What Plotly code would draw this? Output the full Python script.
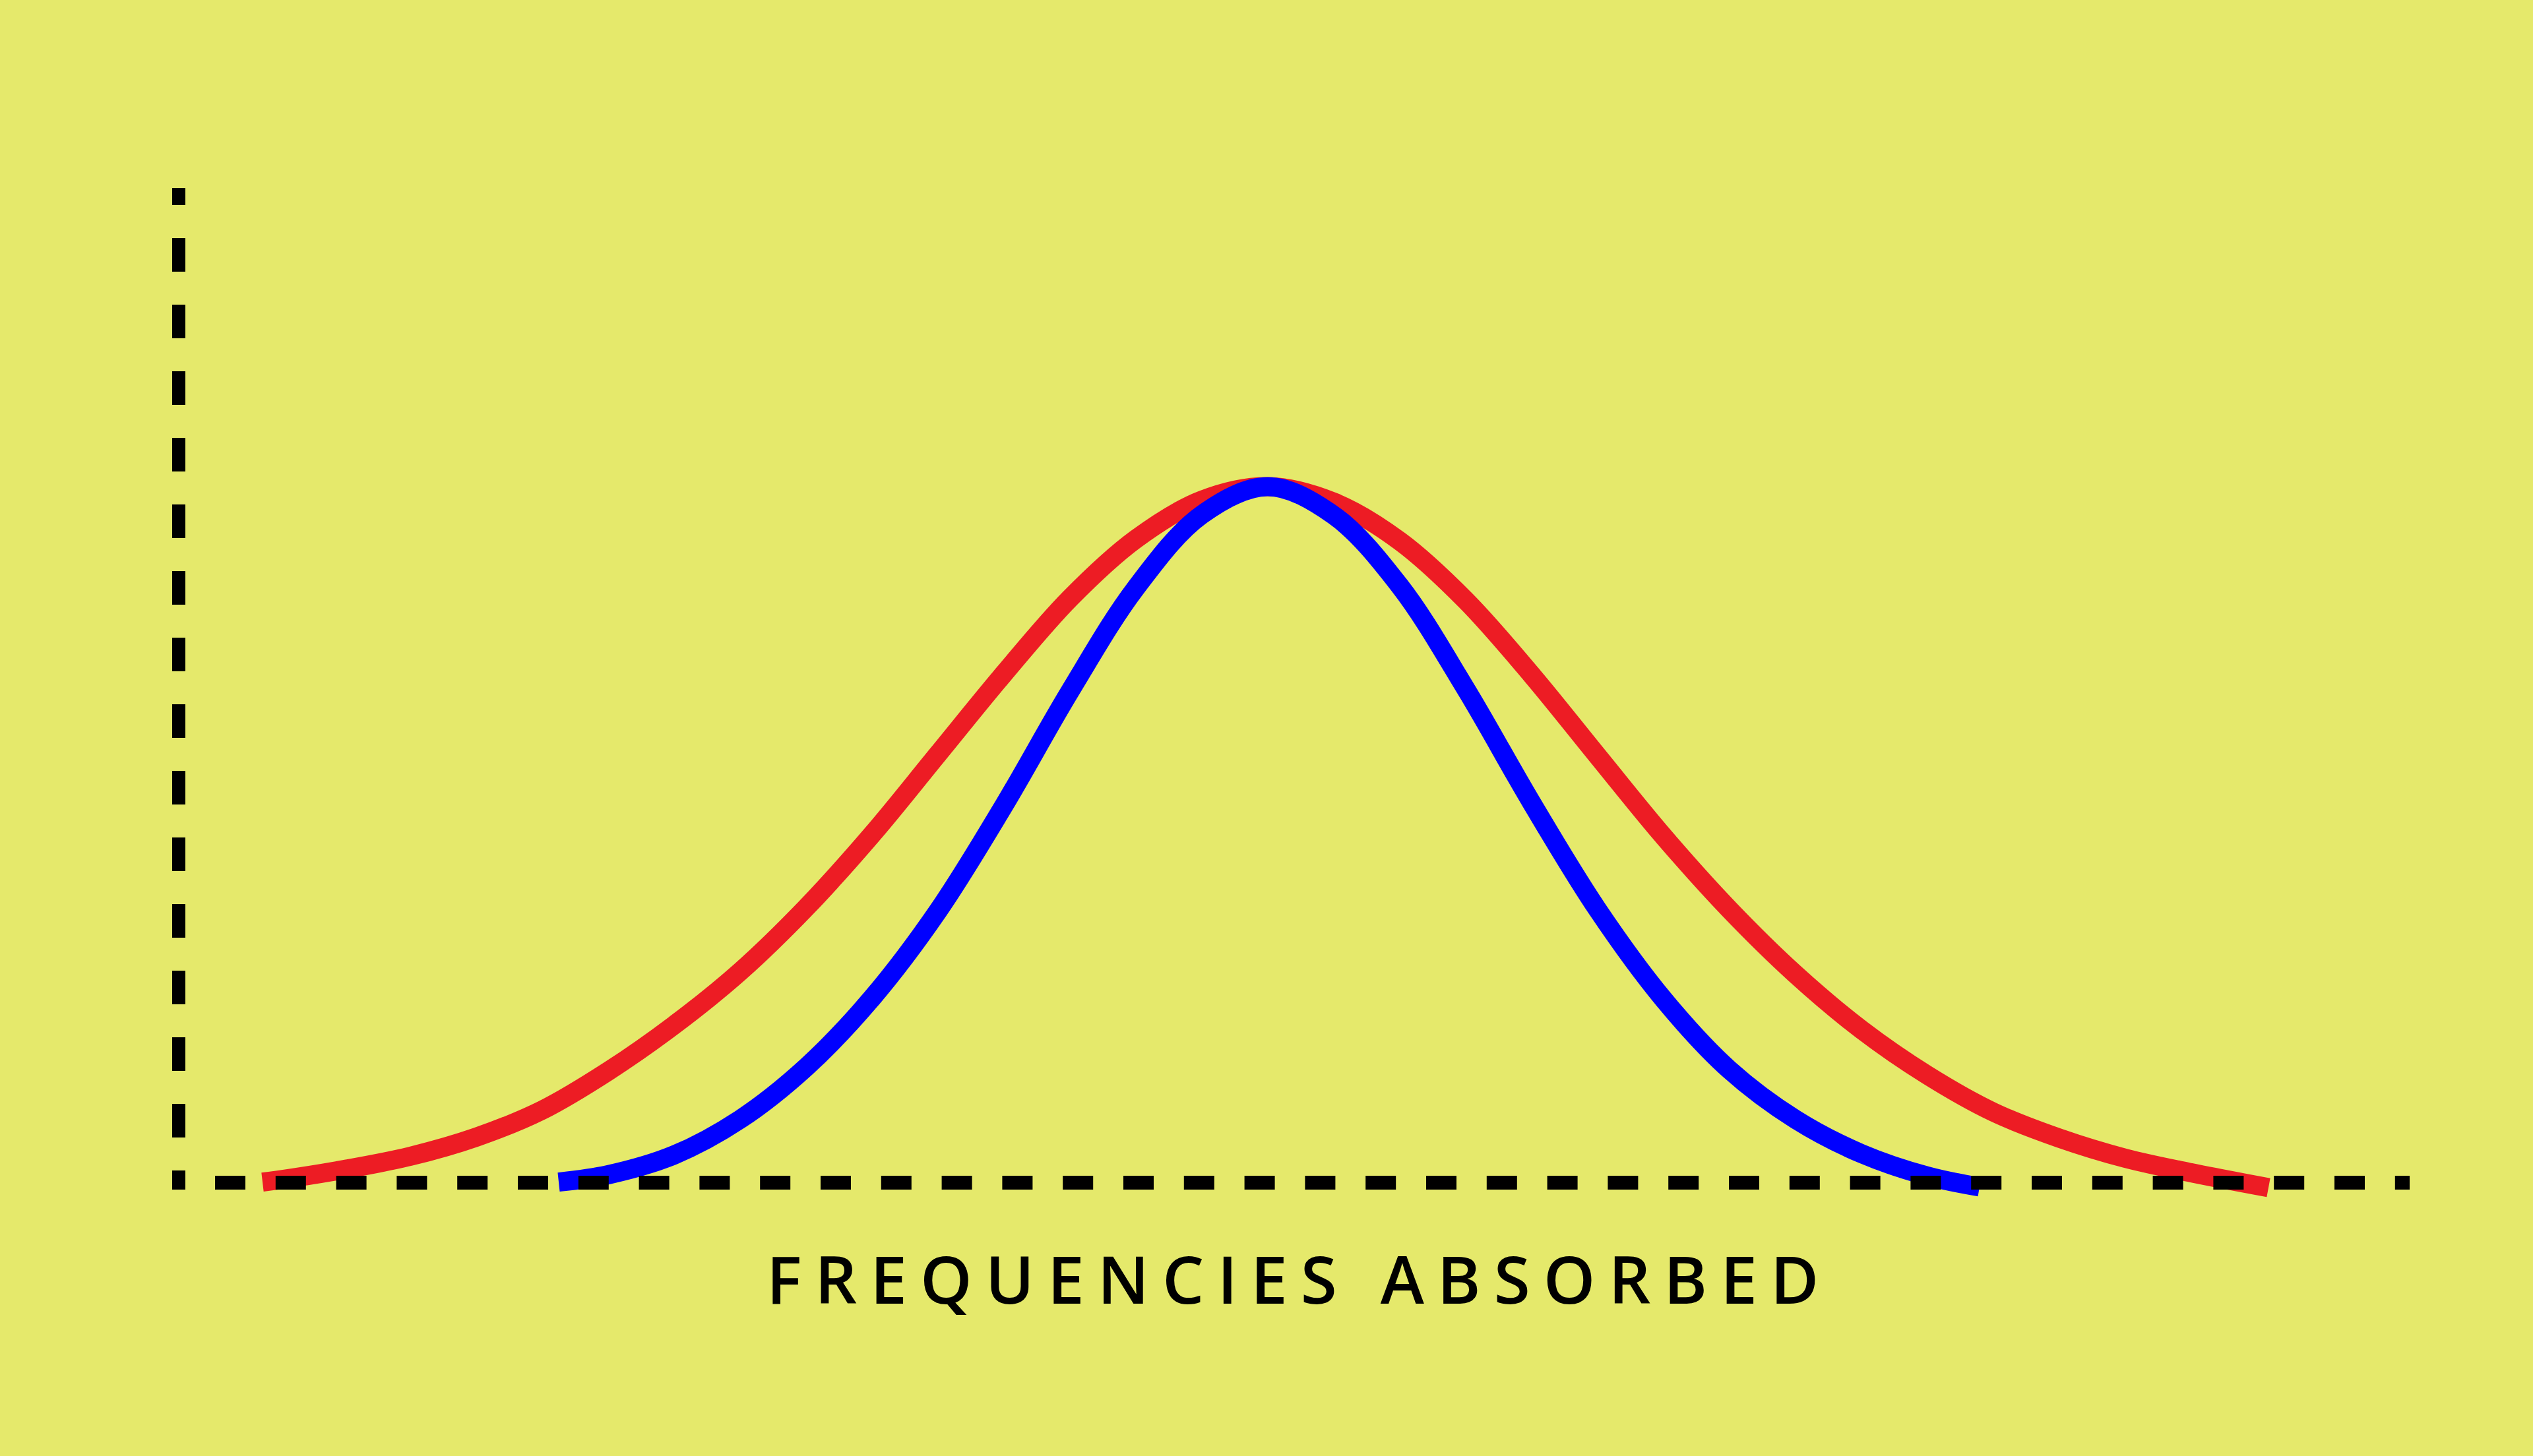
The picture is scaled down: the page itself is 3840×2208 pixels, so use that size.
import plotly.graph_objects as go

# x in "frequency" units, y in absorption units (1 unit = 100 px of the reference)
red_x = [1.27, 1.51, 2.51, 3.51, 4.51, 5.51, 6.51, 7.51, 8.51, 9.51, 10.51, 11.51,
         12.51, 13.51, 14.51, 15.51, 16.51, 17.51, 18.51, 19.51, 20.51, 21.51,
         22.51, 23.51, 24.51, 25.51, 26.51, 27.51, 28.51, 29.51, 30.51, 31.68]
red_y = [0.009, 0.04, 0.20, 0.40, 0.69, 1.10, 1.69, 2.39, 3.20, 4.17, 5.28, 6.50,
         7.72, 8.86, 9.76, 10.35, 10.555, 10.32, 9.73, 8.83, 7.70, 6.47,
         5.25, 4.14, 3.16, 2.32, 1.63, 1.07, 0.675, 0.37, 0.15, -0.075]

blue_x = [5.76, 6.51, 7.51, 8.51, 9.51, 10.51, 11.51, 12.51, 13.51, 14.51, 15.51, 16.51,
          17.51, 18.51, 19.51, 20.51, 21.51, 22.51, 23.51, 24.51, 25.51, 26.51, 27.30]
blue_y = [0.009, 0.12, 0.42, 0.96, 1.75, 2.80, 4.12, 5.72, 7.45, 9.02, 10.13, 10.555,
          10.12, 9.05, 7.49, 5.76, 4.14, 2.78, 1.71, 0.96, 0.44, 0.10, -0.065]

label = "FREQUENCIES ABSORBED"

bg = "#E5E96B"

fig = go.Figure()
fig.add_trace(go.Scatter(x=red_x, y=red_y, mode="lines",
                         line=dict(color="#ED1C24", width=29, shape="spline", smoothing=1.0),
                         hoverinfo="skip"))
fig.add_trace(go.Scatter(x=blue_x, y=blue_y, mode="lines",
                         line=dict(color="#0000FF", width=29, shape="spline", smoothing=1.0),
                         hoverinfo="skip"))

# dashed axes, drawn on top of the curves
v_dash = ",".join(["26px", "50px"] + ["51px", "50px"] * 16)
fig.add_shape(type="line", x0=0, x1=0, y0=15.085, y1=-0.105,
              line=dict(color="black", width=20, dash=v_dash))
fig.add_shape(type="line", x0=0.55, x1=33.82, y0=0, y1=0,
              line=dict(color="black", width=21, dash="46px,45.8px"))

fig.add_annotation(x=16.9, y=-1.445, xref="x", yref="y", xshift=8,
                   text='<span style="letter-spacing:20px">' + label + "</span>",
                   showarrow=False, xanchor="center", yanchor="middle",
                   font=dict(family="Open Sans", size=100, color="black", weight=600))

fig.update_xaxes(range=[-2.71, 35.69], visible=False)
fig.update_yaxes(range=[-4.145, 17.935], visible=False)
fig.update_layout(width=3840, height=2208, autosize=False,
                  margin=dict(l=0, r=0, t=0, b=0, pad=0),
                  paper_bgcolor=bg, plot_bgcolor=bg, showlegend=False)

fig.write_html("out.html", config={"displayModeBar": False},
               post_script="document.body.style.margin='0';")
